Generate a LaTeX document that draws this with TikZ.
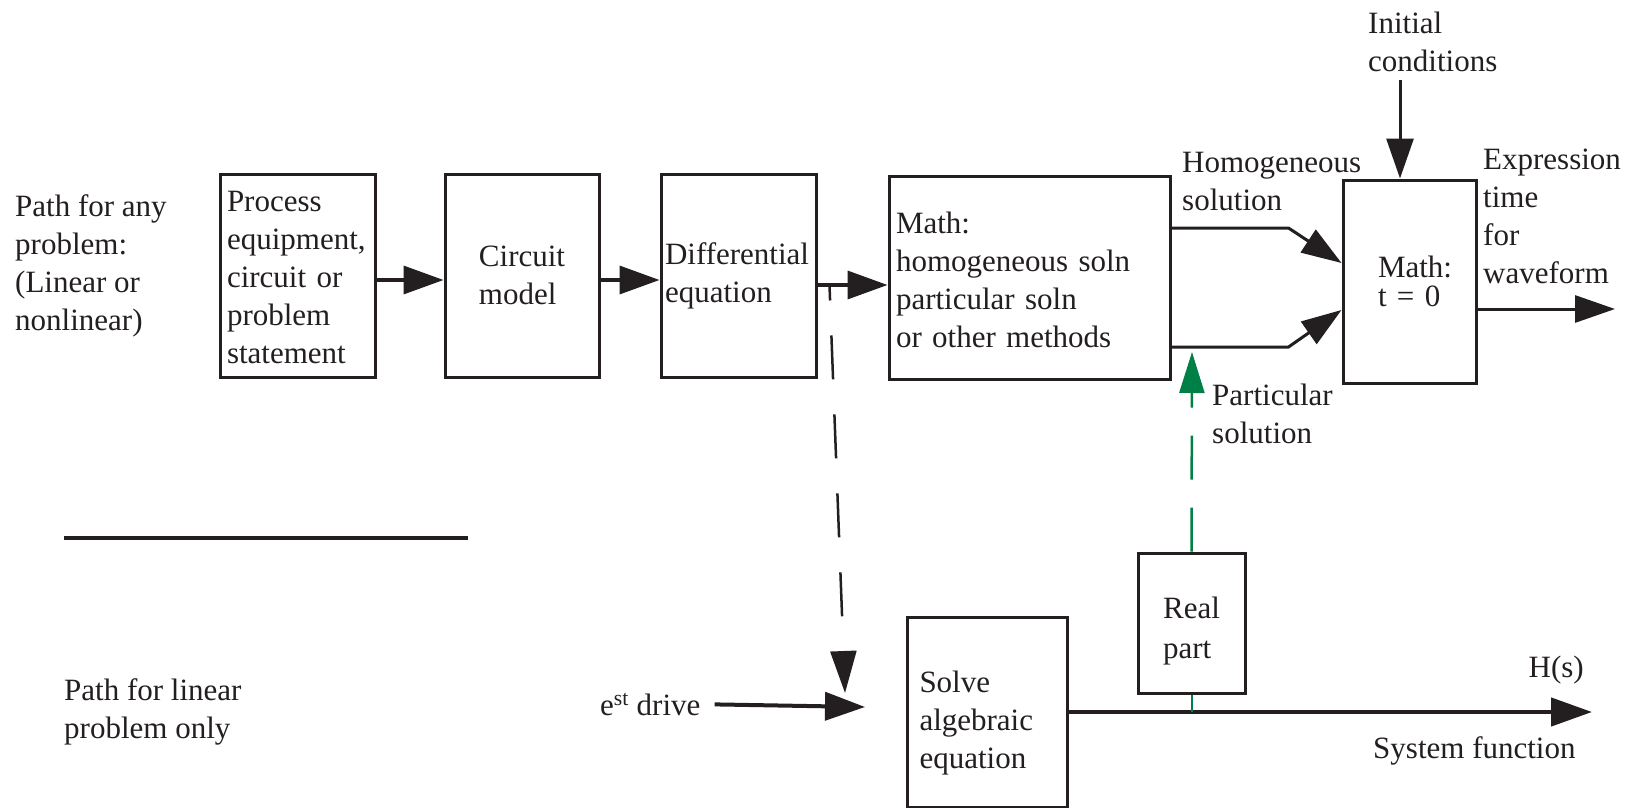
\documentclass[tikz,border=0pt]{standalone}
\usepackage{fontspec}
\setmainfont{Liberation Serif}
\usetikzlibrary{arrows.meta}
\definecolor{ink}{RGB}{35,31,32}
\definecolor{grn}{RGB}{0,128,70}
\begin{document}
\begin{tikzpicture}[x=1pt,y=-1pt,
  every node/.style={font=\fontsize{31}{38}\selectfont, text=ink},
  box/.style={draw=ink, line width=3pt, inner ysep=0pt, align=left},
  lbl/.style={inner sep=0pt, align=left, anchor=base west},
  arr/.style={draw=ink, line width=3.5pt, -{Triangle[length=40pt,width=28pt]}},
  thinarr/.style={draw=ink, line width=3pt, -{Triangle[length=40pt,width=27pt]}},
  dsh/.style={draw=ink, line width=2.5pt, dash pattern=on 44pt off 35pt, dash phase=29pt, -{Triangle[length=42pt,width=26pt]}},
  gdsh/.style={draw=grn, line width=2.5pt, dash pattern=on 44pt off 28pt, -{Triangle[length=41pt,width=25pt]}},
]
\fill[white] (0,0) rectangle (1634,808);
\useasboundingbox (0,0) rectangle (1634,808);

% top row boxes
\node[box, minimum width=155pt, minimum height=203pt, inner xsep=7pt, text width=141pt] (b1) at (297.5,275.5)
  {\rule{0pt}{25pt}Process\\equipment,\\circuit or\\problem\\statement};
\node[box, minimum width=154pt, minimum height=203pt] (b2) at (522,275.5) {Circuit\\model};
\node[box, minimum width=155pt, minimum height=203pt, inner xsep=4pt, text width=147pt] (b3) at (738.5,275.5)
  {Differential\\equation};
\node[box, minimum width=281pt, minimum height=203pt, inner xsep=7pt, text width=267pt] (b4) at (1029.5,277.5)
  {\rule{0pt}{26pt}Math:\\homogeneous soln\\particular soln\\or other methods};
\node[box, minimum width=133pt, minimum height=203pt, inner xsep=35pt, text width=63pt,
      font=\fontsize{31}{29}\selectfont] (b5) at (1409.5,281.5) {Math:\\t = 0};

% bottom row boxes
\node[box, minimum width=107pt, minimum height=140pt, font=\fontsize{31}{40}\selectfont] (real) at (1191.5,623)
  {\rule{0pt}{37pt}Real\\part};
\node[box, minimum width=160pt, minimum height=190pt, inner xsep=12pt, text width=136pt] (solve) at (987.5,712)
  {\rule{0pt}{43pt}Solve\\algebraic\\equation};

% labels (anchored at the baseline of their last line)
\node[lbl] (pathany) at (15,330) {Path for any\\problem:\\(Linear or\\nonlinear)};
\node[lbl] (pathlin) at (64,738) {Path for linear\\problem only};
\node[lbl] (homog) at (1182,210) {Homogeneous\\solution};
\node[lbl] (ic) at (1368,72) {Initial\\conditions};
\node[lbl] (expr) at (1483,283) {Expression\\time\\for\\waveform};
\node[lbl] (partic) at (1212,443) {Particular\\solution};
\node[inner sep=0pt, anchor=base east] (hs) at (1584,677) {H(s)};
\node[lbl] (sysf) at (1373,758) {System function};
\node[lbl] (est) at (600,715) {e\textsuperscript{st} drive};

% free ends
\coordinate (icend) at (1400,80);
\coordinate (outend) at (1615,309);
\coordinate (estend) at (865,707);
\coordinate (dshend) at (845,693);
\coordinate (gtip) at (1192,352);
\coordinate (hsend) at (1592,712);

% separator
\draw[ink, line width=4pt] (64,538) -- (468,538);

% top connectors
\draw[arr] ([yshift=-4.5pt]b1.east) -- ([yshift=-4.5pt]b2.west);
\draw[arr] ([yshift=-4.5pt]b2.east) -- ([yshift=-4.5pt]b3.west);
\draw[arr] ([yshift=-9.5pt]b3.east) -- ([yshift=-7.5pt]b4.west);
\draw[thinarr] ([yshift=49.5pt]b4.east) -- ++(117,0) -- ([yshift=18.5pt]b5.west);
\draw[thinarr] ([yshift=-69.5pt]b4.east) -- ++(117,0) -- ([yshift=-28.5pt]b5.west);
\draw[thinarr] (icend) -- ([xshift=-9.5pt]b5.north);
\draw[thinarr] ([yshift=-27.5pt]b5.east) -- (outend);

% dashed connectors
\draw[dsh] ([xshift=12pt,yshift=-10pt]b3.east) -- (dshend);
\draw[gdsh] (real.north) -- (gtip);

% bottom connectors
\draw[arr, line width=4pt] ([xshift=14pt]est.east) -- (estend);
\draw[arr, line width=4.5pt, -{Triangle[length=41pt,width=28pt]}] (solve.east) -- (hsend);
\draw[grn, line width=2pt] (real.south) -- (real.south |- hsend);
\end{tikzpicture}
\end{document}
